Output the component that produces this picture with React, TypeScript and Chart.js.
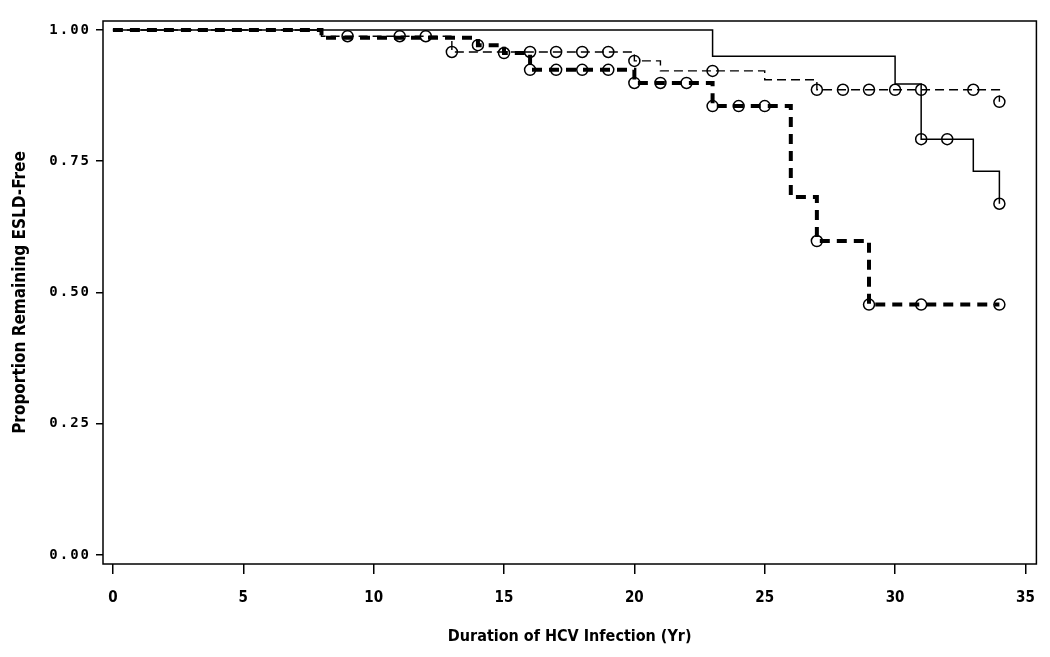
import React, { useEffect, useRef } from "react";
import { Chart, registerables } from "chart.js";

Chart.register(...registerables);

// Axis ticks
const xTickValues = [0, 5, 10, 15, 20, 25, 30, 35];
const yTickValues = [0, 0.25, 0.5, 0.75, 1];

// Solid thin curve (step function, value holds from time until next time)
const solidTimes = [0, 23, 30, 31, 33, 34];
const solidSurv = [1, 0.95, 0.897, 0.792, 0.731, 0.669];
const solidCensorTimes = [31, 32, 34];
const solidCensorSurv = [0.792, 0.792, 0.669];

// Thin dashed curve
const thinTimes = [0, 8, 13, 20, 21, 25, 27, 34];
const thinSurv = [1, 0.988, 0.958, 0.941, 0.922, 0.905, 0.886, 0.863];
const thinCensorTimes = [9, 11, 12, 13, 16, 17, 18, 19, 20, 23, 27, 28, 29, 30, 31, 33, 34];
const thinCensorSurv = [0.988, 0.988, 0.988, 0.958, 0.958, 0.958, 0.958, 0.958, 0.941, 0.922, 0.886, 0.886, 0.886, 0.886, 0.886, 0.886, 0.863];

// Thick dashed curve
const thickTimes = [0, 8, 14, 15, 16, 20, 23, 26, 27, 29, 34];
const thickSurv = [1, 0.985, 0.971, 0.956, 0.924, 0.899, 0.855, 0.682, 0.598, 0.477, 0.477];
const thickCensorTimes = [14, 15, 16, 17, 18, 19, 20, 21, 22, 23, 24, 25, 27, 29, 31, 34];
const thickCensorSurv = [0.971, 0.956, 0.924, 0.924, 0.924, 0.924, 0.899, 0.899, 0.899, 0.855, 0.855, 0.855, 0.598, 0.477, 0.477, 0.477];

const xTitle = "Duration of HCV Infection (Yr)";
const yTitle = "Proportion Remaining ESLD-Free";

const pts = (xs: number[], ys: number[]) => xs.map((x, i) => ({ x, y: ys[i] }));

const framePlugin = {
  id: "frame",
  afterLayout(chart: any) {
    const s = chart.scales.y;
    if (s && !s.__patched) {
      const orig = s.drawLabels.bind(s);
      s.drawLabels = (area: any) => {
        const ctx = chart.ctx;
        const prev = (ctx as any).letterSpacing;
        (ctx as any).letterSpacing = "2px";
        orig(area);
        (ctx as any).letterSpacing = prev || "0px";
      };
      s.__patched = true;
    }
  },
  afterDraw(chart: any) {
    const { ctx, chartArea } = chart;
    ctx.save();
    ctx.strokeStyle = "#000";
    ctx.lineWidth = 1.5;
    ctx.strokeRect(chartArea.left, chartArea.top, chartArea.right - chartArea.left, chartArea.bottom - chartArea.top);
    ctx.restore();
  },
};

export default function App() {
  const ref = useRef<HTMLCanvasElement | null>(null);
  useEffect(() => {
    if (!ref.current) return;
    const lineDs = (data: any, width: number, dash: number[]) => ({
      type: "scatter",
      data,
      showLine: true,
      stepped: "before",
      borderColor: "#000",
      borderWidth: width,
      borderDash: dash,
      pointRadius: 0,
      fill: false,
    });
    const censorDs = (data: any) => ({
      type: "scatter",
      data,
      showLine: false,
      pointStyle: "circle",
      pointRadius: 5.5,
      pointBorderWidth: 1.5,
      borderColor: "#000",
      backgroundColor: "rgba(0,0,0,0)",
      pointBackgroundColor: "rgba(0,0,0,0)",
    });
    const chart = new Chart(ref.current, {
      type: "scatter",
      data: {
        datasets: [
          lineDs(pts(solidTimes, solidSurv), 1.5, []),
          lineDs(pts(thinTimes, thinSurv), 1.4, [9, 5]),
          lineDs(pts(thickTimes, thickSurv), 4, [10, 7]),
          censorDs(pts(solidCensorTimes, solidCensorSurv)),
          censorDs(pts(thinCensorTimes, thinCensorSurv)),
          censorDs(pts(thickCensorTimes, thickCensorSurv)),
        ] as any,
      },
      options: {
        animation: false,
        responsive: false,
        devicePixelRatio: 1,
        layout: { padding: { left: 0, top: 21, right: 13, bottom: 0 } },
        plugins: { legend: { display: false }, tooltip: { enabled: false } },
        scales: {
          x: {
            type: "linear",
            min: -0.38,
            max: 35.42,
            afterBuildTicks: (s: any) => {
              s.ticks = xTickValues.map((v) => ({ value: v }));
            },
            afterFit: (s: any) => {
              s.height = 93;
            },
            border: { display: false },
            grid: { display: true, drawOnChartArea: false, drawTicks: true, tickLength: 10, color: "#000", lineWidth: 1.5 },
            ticks: {
              autoSkip: false,
              maxRotation: 0,
              color: "#000",
              padding: 15,
              font: { family: "'Liberation Sans Narrow', 'DejaVu Sans Condensed', sans-serif", size: 15, weight: "bold" },
              callback: (v: any) => String(v),
            },
            title: {
              display: true,
              text: xTitle,
              color: "#000",
              padding: { top: 0, bottom: 11 },
              font: { family: "'Liberation Sans Narrow', 'DejaVu Sans Condensed', sans-serif", size: 16, weight: "bold" },
            },
          },
          y: {
            type: "linear",
            min: -0.017,
            max: 1.017,
            afterBuildTicks: (s: any) => {
              s.ticks = yTickValues.map((v) => ({ value: v }));
            },
            afterFit: (s: any) => {
              s.width = 103;
            },
            border: { display: false },
            grid: { display: true, drawOnChartArea: false, drawTicks: true, tickLength: 7, color: "#000", lineWidth: 1.5 },
            ticks: {
              autoSkip: false,
              color: "#000",
              padding: 5,
              font: { family: "'DejaVu Sans Mono', monospace", size: 14, weight: "bold" },
              callback: (v: any) => Number(v).toFixed(2),
            },
            title: {
              display: true,
              text: yTitle,
              color: "#000",
              padding: { top: 10, bottom: 0 },
              font: { family: "'Liberation Sans Narrow', 'DejaVu Sans Condensed', sans-serif", size: 17, weight: "bold" },
            },
          },
        },
      } as any,
      plugins: [framePlugin],
    });
    return () => chart.destroy();
  }, []);
  return (
    <div style={{ position: "absolute", left: 0, top: 0, width: 1050, height: 657, background: "#fff" }}>
      <canvas ref={ref} width={1050} height={657} style={{ display: "block" }} />
    </div>
  );
}
